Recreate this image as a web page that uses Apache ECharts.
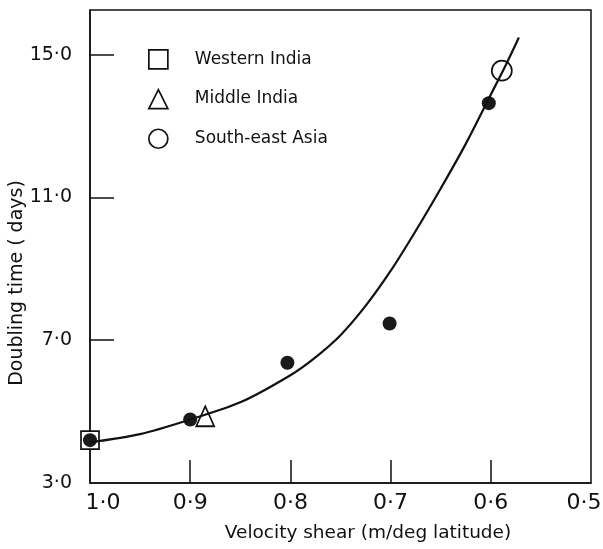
<!DOCTYPE html>
<html>
<head>
<meta charset="utf-8">
<script src="https://cdn.jsdelivr.net/npm/echarts@6/dist/echarts.min.js"></script>
<style>
  html, body { margin: 0; padding: 0; background: #fff; }
  #chart { width: 603px; height: 549px; }
</style>
</head>
<body>
<div id="chart"></div>
<script>
// Axis ticks and their printed labels
const shearTicks = [1.0, 0.9, 0.8, 0.7, 0.6, 0.5];
const shearTickLabels = ['1·0', '0·9', '0·8', '0·7', '0·6', '0·5'];
const daysTicks = [3, 7, 11, 15];
const daysTickLabels = ['3·0', '7·0', '11·0', '15·0'];

// Fitted curve: doubling time against velocity shear
const curveShear = [1.0, 0.95, 0.9, 0.85, 0.8, 0.775, 0.75, 0.725, 0.7, 0.675, 0.65, 0.625, 0.6, 0.585, 0.572];
const curveDays  = [4.14, 4.37, 4.78, 5.26, 6.02, 6.52, 7.14, 7.96, 8.94, 10.06, 11.25, 12.5, 13.88, 14.71, 15.48];

// Individual cases (filled circles)
const caseShear = [1.0, 0.9, 0.803, 0.701, 0.602];
const caseDays  = [4.20, 4.78, 6.37, 7.47, 13.64];

// Regional means
const regionNames = ['Western India', 'Middle India', 'South-east Asia'];
const regionShear = [1.0, 0.885, 0.589];
const regionDays  = [4.20, 4.87, 14.55];

const ink = '#111';
const font = 'DejaVu Sans';

const pairs = (xs, ys) => xs.map((x, i) => [x, ys[i]]);
const labelFor = (ticks, labels) => v => {
  const i = ticks.findIndex(t => Math.abs(t - v) < 1e-6);
  return i >= 0 ? labels[i] : '';
};
const shearLabel = labelFor(shearTicks, shearTickLabels);
const daysLabel = labelFor(daysTicks, daysTickLabels);

const openStyle = { color: '#fff', borderColor: ink, borderWidth: 1.7, opacity: 1 };
const xLabelFont = { color: ink, fontFamily: font, fontSize: 22 };

const chart = echarts.init(document.getElementById('chart'), null, { renderer: 'canvas' });
chart.setOption({
  animation: false,
  backgroundColor: '#fff',
  grid: {
    left: 90, right: 12, top: 10, bottom: 66,
    outerBoundsMode: 'none', containLabel: false,
    show: true, borderColor: ink, borderWidth: 1.5, backgroundColor: 'transparent'
  },
  xAxis: {
    type: 'value', min: 0.5, max: 1.0, inverse: true,
    axisLine: { show: true, lineStyle: { color: ink, width: 1.5 } },
    axisTick: { show: true, inside: true, length: 23, customValues: shearTicks.slice(1, 5), lineStyle: { color: ink, width: 1.5 } },
    splitLine: { show: false },
    axisLabel: Object.assign({
      customValues: shearTicks, margin: 9,
      formatter: v => {
        if (Math.abs(v - 1.0) < 1e-6) return '{first|' + shearLabel(v) + '}';
        if (Math.abs(v - 0.5) < 1e-6) return '{last|' + shearLabel(v) + '}';
        return shearLabel(v);
      },
      rich: {
        first: Object.assign({ padding: [0, 0, 0, 26] }, xLabelFont),
        last: Object.assign({ padding: [0, 14, 0, 0] }, xLabelFont)
      }
    }, xLabelFont)
  },
  yAxis: {
    type: 'value', min: 3, max: 16.25,
    axisLine: { show: true, lineStyle: { color: ink, width: 1.5 } },
    axisTick: { show: true, inside: true, length: 24, customValues: daysTicks.slice(1), lineStyle: { color: ink, width: 1.5 } },
    splitLine: { show: false },
    axisLabel: {
      customValues: daysTicks, margin: 18,
      color: ink, fontFamily: font, fontSize: 19,
      formatter: v => daysLabel(v)
    }
  },
  legend: {
    data: regionNames,
    orient: 'vertical', left: 143, top: 44,
    itemWidth: 19, itemHeight: 19, itemGap: 19,
    itemStyle: openStyle,
    textStyle: { color: ink, fontFamily: font, fontSize: 17, padding: [0, 0, 0, 22] },
    selectedMode: false
  },
  graphic: [
    {
      type: 'text', x: 17, y: 283, rotation: Math.PI / 2,
      style: { text: 'Doubling time ( days)', fill: ink, font: '19px "' + font + '"', textAlign: 'center', textVerticalAlign: 'middle' }
    },
    {
      type: 'text', x: 368, y: 533,
      style: { text: 'Velocity shear (m/deg latitude)', fill: ink, font: '18.5px "' + font + '"', textAlign: 'center', textVerticalAlign: 'middle' }
    }
  ],
  series: [
    {
      name: 'curve', type: 'line', data: pairs(curveShear, curveDays),
      smooth: 0.3, showSymbol: false, symbol: 'none',
      lineStyle: { color: ink, width: 2.2 }, silent: true
    },
    {
      name: regionNames[0], type: 'scatter', symbol: 'rect', symbolSize: 18,
      data: [[regionShear[0], regionDays[0]]], itemStyle: openStyle
    },
    {
      name: 'cases', type: 'scatter', symbol: 'circle', symbolSize: 14,
      data: pairs(caseShear, caseDays), itemStyle: { color: '#1a1a1a', opacity: 1 }
    },
    {
      name: regionNames[1], type: 'scatter', symbol: 'triangle', symbolSize: [18, 20],
      data: [[regionShear[1], regionDays[1]]], itemStyle: openStyle
    },
    {
      name: regionNames[2], type: 'scatter', symbol: 'circle', symbolSize: 20,
      data: [[regionShear[2], regionDays[2]]], itemStyle: openStyle
    }
  ]
});
</script>
</body>
</html>
